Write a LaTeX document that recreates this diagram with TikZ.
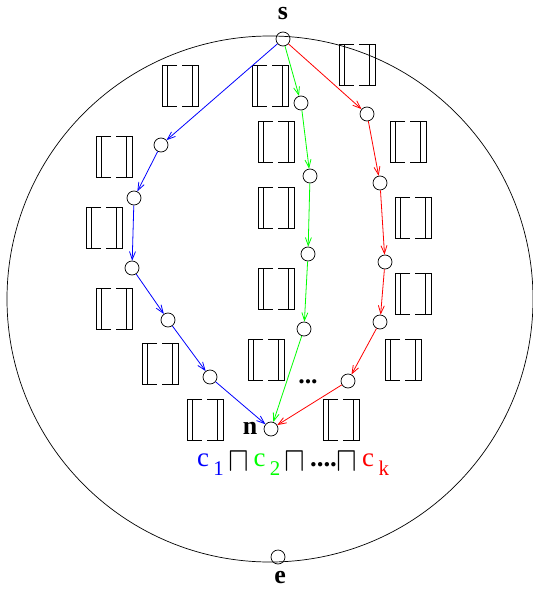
\documentclass[tikz,border=0pt]{standalone}
\usepackage{fontspec}
\setmainfont{Liberation Serif}
\usetikzlibrary{arrows.meta,positioning}
\newcommand\lowidx[1]{\raisebox{-9bp}{\fontsize{21}{22}\selectfont#1}}
\newcommand\meetsym{\raisebox{-5bp}{\scalebox{1.25}[1.4]{$\sqcap$}}}

\begin{document}
\begin{tikzpicture}[x=1bp,y=-1bp,
    pt/.style={circle,draw,line width=0.7bp,minimum size=14bp,inner sep=0pt},
    arr/.style={-{Straight Barb[length=8bp,width=6bp]},line width=0.8bp},
    lbl/.style={font=\fontsize{26}{28}\selectfont\bfseries,inner sep=0pt},
    dbrack/.pic={
      \draw[line width=0.8bp] (-3,-20.5) -| (-18,20.5) -- (-3,20.5)
        (-13,-20.5) -- (-13,20.5);
      \draw[line width=0.8bp] (2,-20.5) -| (18,20.5) -- (2,20.5)
        (12,-20.5) -- (12,20.5);
    }]
    \useasboundingbox (0,0) rectangle (533,589);
    \draw[line width=0.7bp] (270,299) circle[radius=263bp];

    % states
    \node[pt] (s) at (283,39) {};
    \node[pt] (b1) at (161,145) {};
    \node[pt] (b2) at (134,198) {};
    \node[pt] (b3) at (132,268) {};
    \node[pt] (b4) at (168,320) {};
    \node[pt] (b5) at (210,377) {};
    \node[pt] (g1) at (301,103) {};
    \node[pt] (g2) at (310,176) {};
    \node[pt] (g3) at (308,254) {};
    \node[pt] (g4) at (304,329) {};
    \node[pt] (r1) at (367,114) {};
    \node[pt] (r2) at (380,183) {};
    \node[pt] (r3) at (385,262) {};
    \node[pt] (r4) at (380,322) {};
    \node[pt] (r5) at (348,381) {};
    \node[pt] (n) at (271,429) {};
    \node[pt] (e) at (278,557) {};

    \node[lbl] (slbl) at (283,14) {s};
    \node[lbl] (nlbl) at (250,428) {n};
    \node[lbl] (elbl) at (280,578) {e};
    \node[lbl] (gap) at (308,382) {...};
    \node[font=\fontsize{27}{28}\selectfont,inner sep=0pt] (meet) at (293,464)
      {\textcolor{blue}{c\,\lowidx{1}}\,\meetsym\,\textcolor{green}{c\,\lowidx{2}}\,\meetsym\,\textbf{....}\meetsym\,\textcolor{red}{c\,\lowidx{k}}};

    % guards
    \pic at (180,86) {dbrack};  \pic at (114,157) {dbrack};
    \pic at (104,228) {dbrack}; \pic at (114,309) {dbrack};
    \pic at (160,364) {dbrack}; \pic at (205,420) {dbrack};
    \pic at (270,86) {dbrack};  \pic at (276,142) {dbrack};
    \pic at (276,208) {dbrack}; \pic at (276,289) {dbrack};
    \pic at (266,360) {dbrack};
    \pic at (357,65) {dbrack};  \pic at (408,142) {dbrack};
    \pic at (413,218) {dbrack}; \pic at (413,294) {dbrack};
    \pic at (403,360) {dbrack}; \pic at (341,420) {dbrack};

    % paths
    \draw[arr,blue] (s) -- (b1);
    \draw[arr,blue] (b1) -- (b2);
    \draw[arr,blue] (b2) -- (b3);
    \draw[arr,blue] (b3) -- (b4);
    \draw[arr,blue] (b4) -- (b5);
    \draw[arr,blue] (b5) -- (n);
    \draw[arr,green] (s) -- (g1);
    \draw[arr,green] (g1) -- (g2);
    \draw[arr,green] (g2) -- (g3);
    \draw[arr,green] (g3) -- (g4);
    \draw[arr,green] (g4) -- (n);
    \draw[arr,red] (s) -- (r1);
    \draw[arr,red] (r1) -- (r2);
    \draw[arr,red] (r2) -- (r3);
    \draw[arr,red] (r3) -- (r4);
    \draw[arr,red] (r4) -- (r5);
    \draw[arr,red] (r5) -- (n);
\end{tikzpicture}
\end{document}
